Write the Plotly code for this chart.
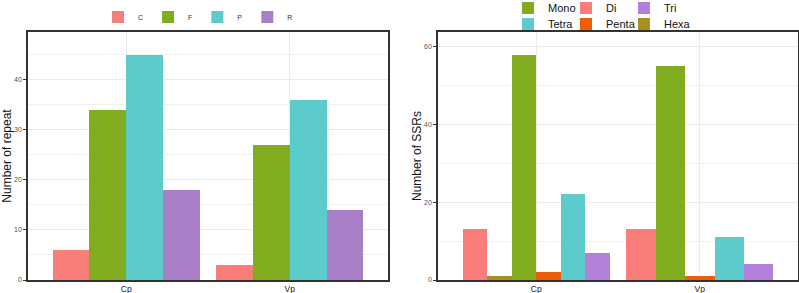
import plotly.graph_objects as go

# ---------------- data ----------------
groups = ["Cp", "Vp"]

repeat_types = ["C", "F", "P", "R"]
repeat_cp = [6, 34, 45, 18]
repeat_vp = [3, 27, 36, 14]

ssr_types = ["Di", "Hexa", "Mono", "Penta", "Tetra", "Tri"]
ssr_cp = [13, 1, 58, 2, 22, 7]
ssr_vp = [13, 0, 55, 1, 11, 4]   # 0 = class absent in Vp

repeat_colors = {"C": "#F97E7A", "F": "#82AC20", "P": "#5BCBCB", "R": "#A87FC7"}
ssr_colors = {"Di": "#F97E7A", "Hexa": "#A8901F", "Mono": "#82AC20",
              "Penta": "#EC5E08", "Tetra": "#5BCBCB", "Tri": "#B47FDA"}

# legend layout (rows of the right-hand legend)
ssr_legend_row1 = ["Mono", "Di", "Tri"]
ssr_legend_row2 = ["Tetra", "Penta", "Hexa"]

DODGE = 0.9


def dodge(types, table):
    """ggplot-like position_dodge: per group, present classes share DODGE width."""
    out = {t: {"x": [], "y": [], "w": [], "o": []} for t in types}
    for g, vals in table.items():
        present = [t for t, v in zip(types, vals) if v > 0]
        n = len(present)
        w = DODGE / n
        for t, v in zip(types, vals):
            if v <= 0:
                continue
            k = present.index(t)
            out[t]["x"].append(g)
            out[t]["y"].append(v)
            out[t]["w"].append(w)
            out[t]["o"].append(-DODGE / 2 + k * w)
    return out


fig = go.Figure()

rep = dodge(repeat_types, {"Cp": repeat_cp, "Vp": repeat_vp})
for t in repeat_types:
    d = rep[t]
    fig.add_trace(go.Bar(x=d["x"], y=d["y"], width=d["w"], offset=d["o"], name=t,
                         marker=dict(color=repeat_colors[t], line=dict(width=0)),
                         xaxis="x", yaxis="y", legend="legend"))

ssr = dodge(ssr_types, {"Cp": ssr_cp, "Vp": ssr_vp})
for t in ssr_types:
    d = ssr[t]
    if t in ssr_legend_row1:
        lg, rank, last = "legend2", ssr_legend_row1.index(t), t == ssr_legend_row1[-1]
    else:
        lg, rank, last = "legend3", ssr_legend_row2.index(t), t == ssr_legend_row2[-1]
    fig.add_trace(go.Bar(x=d["x"], y=d["y"], width=d["w"], offset=d["o"], name=t,
                         marker=dict(color=ssr_colors[t], line=dict(width=0)),
                         xaxis="x2", yaxis="y2", legend=lg, legendrank=rank + 1,
                         legendwidth=34 if last else 13))

FONT = "Liberation Sans, Arial, sans-serif"
W, H = 799, 293
ML, MR, MT, MB = 28, 1, 32, 13
PW = W - ML - MR
PH = H - MT - MB


def px_x(x):
    return (x - ML) / PW


def px_y(y):
    return 1 + (MT - y) / PH


common_x = dict(type="category", categoryorder="array", categoryarray=groups,
                range=[-0.6, 1.6], showgrid=True, gridcolor="#EBEBEB", gridwidth=1,
                showline=True, linecolor="#333333", linewidth=1.5, mirror=True,
                ticks="", ticklen=0, automargin=False,
                tickfont=dict(size=8.5, color="#222222", family=FONT), zeroline=False)
common_y = dict(showgrid=True, gridcolor="#EBEBEB", gridwidth=1,
                showline=True, linecolor="#333333", linewidth=1.5, mirror=True,
                ticks="outside", ticklen=3, tickcolor="#333333", automargin=False,
                zeroline=False)

fig.update_layout(
    width=W, height=H,
    margin=dict(l=ML, r=MR, t=MT, b=MB, autoexpand=False),
    paper_bgcolor="white", plot_bgcolor="white",
    font=dict(family=FONT, color="#111111"),
    barmode="overlay",
    bargap=0,
    xaxis=dict(domain=[0, px_x(388)], anchor="y", **common_x),
    yaxis=dict(domain=[0, 1], anchor="x", range=[0, 49.5], dtick=10,
               tickfont=dict(size=7, color="#555555", family=FONT),
               title=dict(text="Number of repeat", font=dict(size=12, family=FONT, color="#111111"),
                          standoff=2),
               minor=dict(dtick=5, showgrid=True, gridcolor="#F0F0F0", gridwidth=1),
               **common_y),
    xaxis2=dict(domain=[px_x(438), 1], anchor="y2", **common_x),
    yaxis2=dict(domain=[0, 1], anchor="x2", range=[0, 63.8], dtick=20,
                tickfont=dict(size=7, color="#555555", family=FONT),
                title=dict(text="Number of SSRs", font=dict(size=12, family=FONT, color="#111111"),
                           standoff=0),
                minor=dict(dtick=10, showgrid=True, gridcolor="#F0F0F0", gridwidth=1),
                **common_y),
    legend=dict(orientation="h", x=px_x(198), xanchor="center", y=px_y(17), yanchor="middle",
                font=dict(size=7, family=FONT, color="#333333"), bgcolor="rgba(0,0,0,0)",
                itemclick=False),
    legend2=dict(orientation="h", x=px_x(508), xanchor="left", y=px_y(8), yanchor="middle",
                 font=dict(size=11, family=FONT, color="#111111"), bgcolor="rgba(0,0,0,0)",
                 entrywidth=13, traceorder="normal", itemclick=False),
    legend3=dict(orientation="h", x=px_x(508), xanchor="left", y=px_y(24), yanchor="middle",
                 font=dict(size=11, family=FONT, color="#111111"), bgcolor="rgba(0,0,0,0)",
                 entrywidth=13, traceorder="normal", itemclick=False),
)

fig.write_html("out.html", config={"displayModeBar": False},
               post_script="document.body.style.margin='0';document.body.style.overflow='hidden';")
